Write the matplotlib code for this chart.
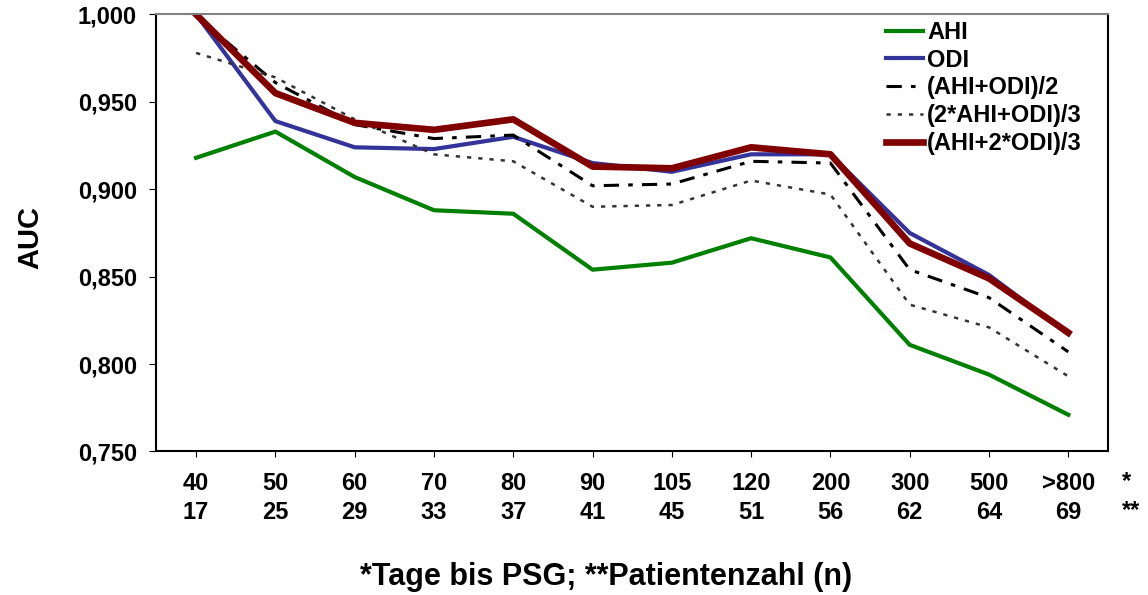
import matplotlib
matplotlib.use("Agg")
import matplotlib.pyplot as plt

plt.rcParams['font.family'] = ['Liberation Sans', 'DejaVu Sans']
plt.rcParams['font.weight'] = 'bold'

tage = ["40", "50", "60", "70", "80", "90", "105", "120", "200", "300", "500", ">800"]
patienten = ["17", "25", "29", "33", "37", "41", "45", "51", "56", "62", "64", "69"]

ahi = [0.918, 0.933, 0.907, 0.888, 0.886, 0.854, 0.858, 0.872, 0.861, 0.811, 0.794, 0.771]
odi = [1.000, 0.939, 0.924, 0.923, 0.930, 0.915, 0.910, 0.920, 0.920, 0.875, 0.851, 0.817]
ahi_odi_2 = [0.999, 0.961, 0.937, 0.929, 0.931, 0.902, 0.903, 0.916, 0.915, 0.854, 0.838, 0.807]
ahi2_odi_3 = [0.978, 0.964, 0.940, 0.920, 0.916, 0.890, 0.891, 0.905, 0.897, 0.834, 0.821, 0.793]
ahi_odi2_3 = [1.000, 0.955, 0.938, 0.934, 0.940, 0.913, 0.912, 0.924, 0.920, 0.869, 0.849, 0.818]

x = list(range(len(tage)))

fig = plt.figure(figsize=(11.48, 5.95), dpi=100)
ax = fig.add_axes([0.1363, 0.2412, 0.8288, 0.7345])

ax.plot(x, ahi, color='#008000', lw=3, label='AHI')
ax.plot(x, odi, color='#333399', lw=3, label='ODI')
ax.plot(x, ahi_odi_2, color='black', lw=2.2, dashes=(5, 3, 1.5, 3), label='(AHI+ODI)/2')
ax.plot(x, ahi2_odi_3, color='#333333', lw=1.8, dashes=(1.7, 2.8), label='(2*AHI+ODI)/3')
ax.plot(x, ahi_odi2_3, color='#800000', lw=4.8, label='(AHI+2*ODI)/3')

ax.set_xlim(-0.5, 11.5)
ax.set_ylim(0.75, 1.0)
ax.set_yticks([0.75, 0.80, 0.85, 0.90, 0.95, 1.0])
ax.set_yticklabels(['0,750', '0,800', '0,850', '0,900', '0,950', '1,000'], fontsize=17, fontweight='bold')
ax.set_xticks(x)
ax.set_xticklabels([t + "\n" + p for t, p in zip(tage, patienten)], fontsize=17,
                   fontweight='bold', linespacing=1.34)
ax.tick_params(axis='x', length=4, pad=10.5)
ax.tick_params(axis='y', length=5, pad=9)
ax.text(1.015, -0.043, "*\n**", transform=ax.transAxes, fontsize=17, fontweight='bold',
        ha='left', va='top', linespacing=1.34)

for s in ax.spines.values():
    s.set_linewidth(1.5)
ax.spines['top'].set_color('#808080')

ax.set_ylabel('AUC', fontsize=21, fontweight='bold')
ax.yaxis.set_label_coords(-0.118, 0.49)
ax.set_xlabel('*Tage bis PSG; **Patientenzahl (n)', fontsize=22, fontweight='bold', va='top')
ax.xaxis.set_label_coords(0.473, -0.253)

leg = ax.legend(loc='upper left', frameon=False, fontsize=17, handlelength=1.55,
                handletextpad=0.2, labelspacing=0.2, borderpad=0, borderaxespad=0,
                bbox_to_anchor=(0.7667, 0.985))
for t in leg.get_texts():
    t.set_fontweight('bold')

fig.savefig('out.png', dpi=100)
